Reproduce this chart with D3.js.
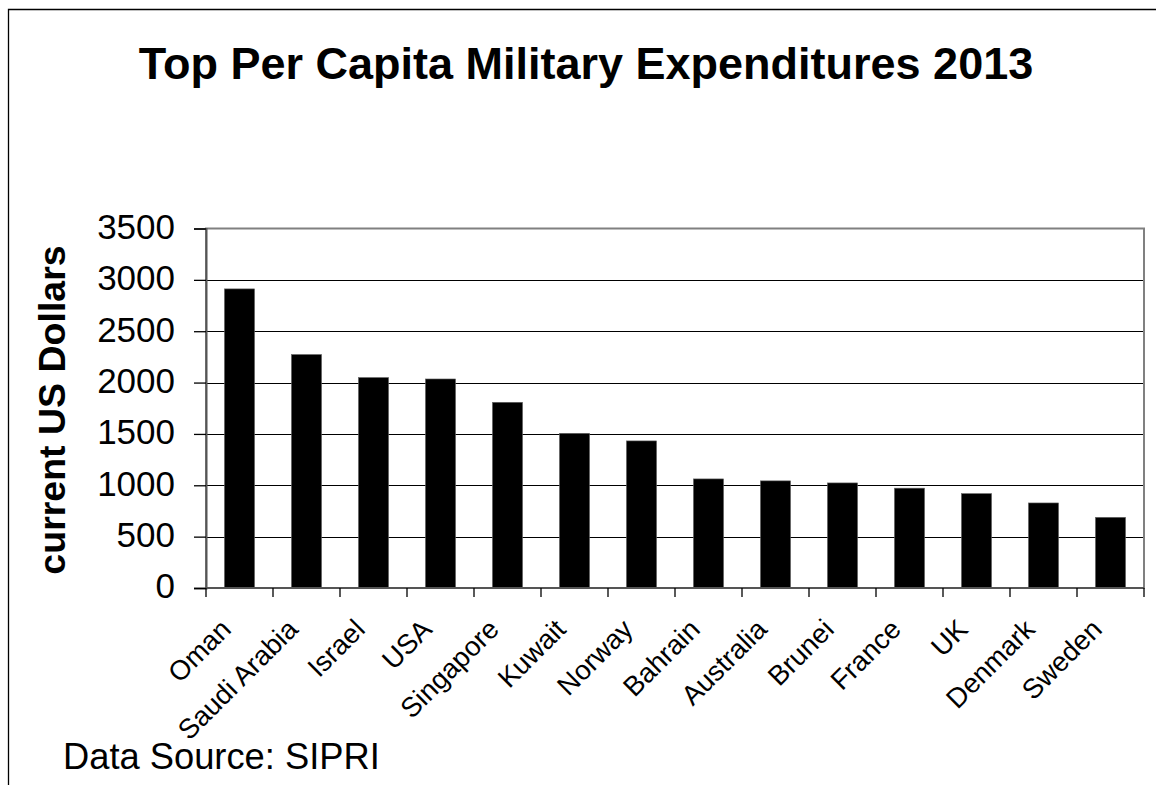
<!DOCTYPE html>
<html>
<head>
<meta charset="utf-8">
<script src="https://cdn.jsdelivr.net/npm/d3@7"></script>
<style>
  body { margin: 0; background: #fff; }
  svg { display: block; font-family: "Liberation Sans", Arial, sans-serif; }
</style>
</head>
<body>
<svg id="chart" width="1156" height="785"></svg>
<script>
// data (current US dollars per capita, 2013)
const countries = ['Oman', 'Saudi Arabia', 'Israel', 'USA', 'Singapore', 'Kuwait', 'Norway',
  'Bahrain', 'Australia', 'Brunei', 'France', 'UK', 'Denmark', 'Sweden']
const spending = [2912, 2273, 2049, 2035, 1808, 1506, 1432, 1062, 1043, 1023, 972, 919, 828, 688]
const yTicks = [0, 500, 1000, 1500, 2000, 2500, 3000, 3500]

const width = 1156
const height = 785
const plot = { left: 206, right: 1144, top: 228.5, bottom: 588 }

const svg = d3.select('#chart')

// outer chart frame (runs off the right and bottom of the picture)
svg.append('path')
  .attr('d', `M 8.5 ${height} V 9.5 H ${width}`)
  .attr('fill', 'none')
  .attr('stroke', '#000')
  .attr('stroke-width', 1.3)

// scales
const x = d3.scaleBand()
  .domain(countries)
  .range([plot.left, plot.right])
  .paddingInner(0.55)
  .paddingOuter(0.275)

const y = d3.scaleLinear()
  .domain([0, 3500])
  .range([plot.bottom, plot.top])

// gridlines
svg.append('g')
  .selectAll('line')
  .data(yTicks.filter((d) => d > 0 && d < 3500))
  .join('line')
  .attr('x1', plot.left)
  .attr('x2', plot.right)
  .attr('y1', (d) => Math.round(y(d)) + 0.5)
  .attr('y2', (d) => Math.round(y(d)) + 0.5)
  .attr('stroke', '#000')
  .attr('stroke-width', 1)

// plot area border
svg.append('rect')
  .attr('x', plot.left)
  .attr('y', plot.top)
  .attr('width', plot.right - plot.left)
  .attr('height', plot.bottom - plot.top)
  .attr('fill', 'none')
  .attr('stroke', '#808080')
  .attr('stroke-width', 2)

// bars
const data = countries.map((c, i) => ({ country: c, value: spending[i] }))
svg.append('g')
  .selectAll('rect')
  .data(data)
  .join('rect')
  .attr('x', (d) => x(d.country))
  .attr('y', (d) => y(d.value))
  .attr('width', x.bandwidth())
  .attr('height', (d) => y(0) - y(d.value))
  .attr('fill', '#000')
  .attr('stroke', '#666')
  .attr('stroke-width', 0.6)

// y axis
const yAxis = svg.append('g')
  .attr('transform', `translate(${plot.left},0)`)
  .call(d3.axisLeft(y).tickValues(yTicks).tickSize(12).tickPadding(19).tickFormat(d3.format('d')))
yAxis.select('.domain').attr('stroke', '#555').attr('stroke-width', 2)
yAxis.selectAll('.tick line').attr('stroke', '#000').attr('stroke-width', 1.3)
yAxis.selectAll('.tick text')
  .attr('font-size', 35)
  .attr('font-family', '"Liberation Sans", Arial, sans-serif')
  .attr('fill', '#000')
  .attr('dy', '0.28em')

// x axis: ticks sit between the categories
const step = x.step()
const tickX = d3.range(countries.length + 1).map((i) => plot.left + i * step)
const xAxis = svg.append('g')
xAxis.append('line')
  .attr('x1', plot.left)
  .attr('x2', plot.right)
  .attr('y1', plot.bottom)
  .attr('y2', plot.bottom)
  .attr('stroke', '#555')
  .attr('stroke-width', 2)
xAxis.selectAll('line.tick')
  .data(tickX)
  .join('line')
  .attr('class', 'tick')
  .attr('x1', (d) => d)
  .attr('x2', (d) => d)
  .attr('y1', plot.bottom)
  .attr('y2', plot.bottom + 9)
  .attr('stroke', '#000')
  .attr('stroke-width', 1.3)

xAxis.selectAll('text')
  .data(countries)
  .join('text')
  .attr('transform', (d) => `translate(${x(d) + x.bandwidth() / 2 - 7},631) rotate(-45)`)
  .attr('text-anchor', 'end')
  .attr('font-size', 27.5)
  .attr('fill', '#000')
  .text((d) => d)

// title
svg.append('text')
  .attr('x', 586)
  .attr('y', 79)
  .attr('text-anchor', 'middle')
  .attr('font-size', 45)
  .attr('font-weight', 'bold')
  .text('Top Per Capita Military Expenditures 2013')

// y axis title
svg.append('text')
  .attr('transform', 'translate(65,410) rotate(-90)')
  .attr('text-anchor', 'middle')
  .attr('font-size', 37.5)
  .attr('font-weight', 'bold')
  .text('current US Dollars')

// source note
svg.append('text')
  .attr('x', 63)
  .attr('y', 769)
  .attr('font-size', 36.3)
  .text('Data Source: SIPRI')
</script>
</body>
</html>
